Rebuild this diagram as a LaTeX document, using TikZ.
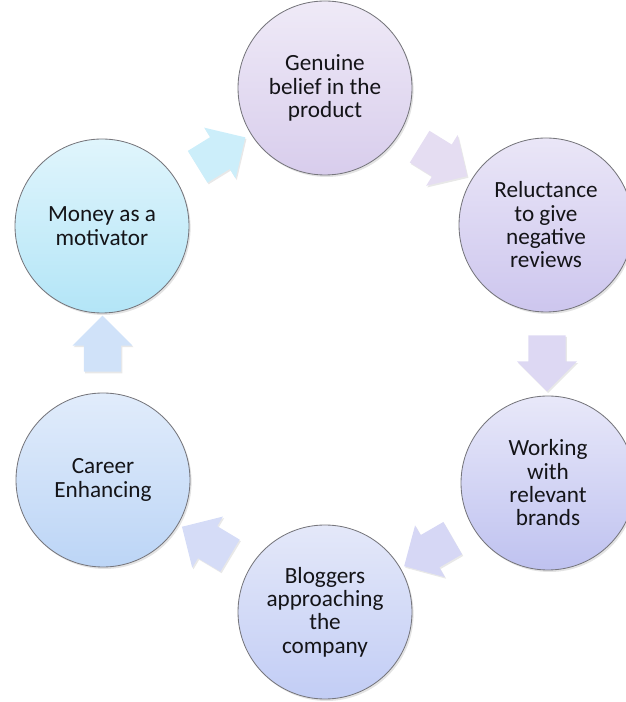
\documentclass[tikz,border=0pt]{standalone}
\usepackage{fontspec}
\setmainfont{Carlito}
\usepackage{tikz}
\usetikzlibrary{calc,positioning,shapes.arrows,shadows}
\definecolor{inkdark}{HTML}{141418}
\definecolor{rimgray}{HTML}{76767C}
% circle fills, top and bottom of each
\definecolor{moneyT}{HTML}{E0F5FC}\definecolor{moneyB}{HTML}{B3E5F7}
\definecolor{beliefT}{HTML}{EFEAF7}\definecolor{beliefB}{HTML}{D8CDEC}
\definecolor{reluctT}{HTML}{EAE6F7}\definecolor{reluctB}{HTML}{CDC6EE}
\definecolor{brandsT}{HTML}{E8E8F9}\definecolor{brandsB}{HTML}{BFC2F0}
\definecolor{bloggersT}{HTML}{E4E8F9}\definecolor{bloggersB}{HTML}{C2CDF5}
\definecolor{careerT}{HTML}{E1ECFB}\definecolor{careerB}{HTML}{BCD5F6}
\tikzset{bubble/.style={circle,draw=rimgray,line width=0.6pt,minimum size=4.35cm,inner sep=2pt,align=center,
    font=\fontsize{16.5}{16.6}\selectfont,text=inkdark,
    drop shadow={opacity=0.22,shadow xshift=0.04cm,shadow yshift=-0.05cm}},
  bigarrow/.style={single arrow,draw=none,inner sep=0.46cm,minimum height=1.22cm,
    single arrow head extend=0.28cm,single arrow tip angle=90,
    drop shadow={opacity=0.18,shadow xshift=0.03cm,shadow yshift=-0.04cm}}}

\begin{document}
\begin{tikzpicture}
\useasboundingbox (0,0) rectangle (15.65,17.55);
% six steps round the cycle
\node[bubble,top color=moneyT,bottom color=moneyB] (money) at (2.55,11.9) {Money as a\\motivator};
\node[bubble,top color=beliefT,bottom color=beliefB] (belief) at (8.125,15.35) {Genuine\\belief in the\\product};
\node[bubble,top color=reluctT,bottom color=reluctB] (reluct) at (13.65,11.925) {Reluctance\\to give\\negative\\reviews};
\node[bubble,top color=brandsT,bottom color=brandsB] (brands) at (13.7,5.475) {Working\\with\\relevant\\brands};
\node[bubble,top color=bloggersT,bottom color=bloggersB] (bloggers) at (8.125,2.25) {Bloggers\\approaching\\the\\company};
\node[bubble,top color=careerT,bottom color=careerB] (career) at (2.575,5.55) {Career\\Enhancing};
% block arrows halfway between neighbours
\node[bigarrow,fill=moneyT!55!moneyB,rotate=31.7] (a1) at ($(money)!0.5!(belief)$) {};
\node[bigarrow,fill=beliefT!55!beliefB,rotate=-31.8] (a2) at ($(belief)!0.5!(reluct)$) {};
\node[bigarrow,fill=reluctT!55!reluctB,rotate=-90] (a3) at ($(reluct)!0.5!(brands)$) {};
\node[bigarrow,fill=brandsT!55!brandsB,rotate=210] (a4) at ($(brands)!0.5!(bloggers)$) {};
\node[bigarrow,fill=bloggersT!55!bloggersB,rotate=149] (a5) at ($(bloggers)!0.5!(career)$) {};
\node[bigarrow,fill=careerT!55!careerB,rotate=90] (a6) at ($(career)!0.5!(money)$) {};
\end{tikzpicture}
\end{document}
